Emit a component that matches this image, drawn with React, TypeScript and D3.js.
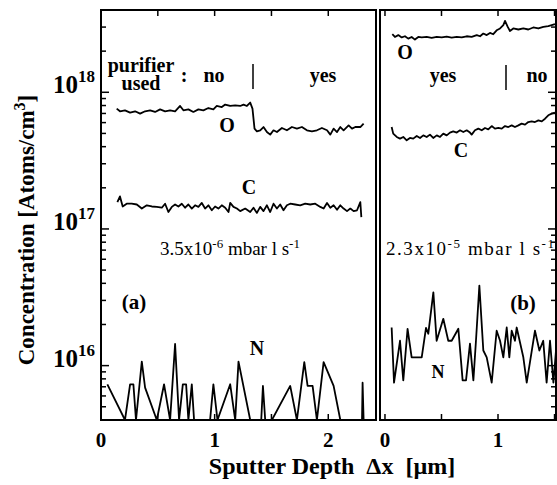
import React from 'react';
import * as d3 from 'd3';

// sputter depth [um], concentration [atoms/cm3]
const F = 4e15; // below detection, sits on the bottom axis

const oxygenA: [number, number][] = [
  [0.138, 7.6e17], [0.167, 7.26e17], [0.211, 7.38e17], [0.256, 7.1e17], [0.3, 7.26e17], [0.344, 6.98e17],
  [0.388, 7.26e17], [0.432, 7.38e17], [0.476, 7.18e17], [0.52, 7.5e17], [0.564, 7.26e17], [0.608, 7.38e17],
  [0.652, 7.26e17], [0.696, 7.94e17], [0.725, 7.38e17], [0.769, 7.5e17], [0.813, 7.18e17], [0.857, 7.5e17],
  [0.901, 7.38e17], [0.945, 7.67e17], [0.989, 7.5e17], [1.019, 7.94e17], [1.063, 7.8e17], [1.093, 8.13e17],
  [1.137, 7.94e17], [1.181, 8.03e17], [1.225, 7.94e17], [1.254, 8.13e17], [1.284, 7.94e17], [1.313, 8.41e17],
  [1.333, 7.6e17], [1.351, 5.42e17], [1.372, 5.18e17], [1.401, 5.27e17], [1.43, 5.57e17], [1.46, 5.12e17],
  [1.489, 4.9e17], [1.518, 5.27e17], [1.548, 5.12e17], [1.592, 5.48e17], [1.636, 5.27e17], [1.68, 5.57e17],
  [1.724, 5.42e17], [1.768, 5.57e17], [1.812, 5.27e17], [1.856, 5.18e17], [1.9, 5.27e17], [1.944, 5.48e17],
  [1.989, 5.27e17], [2.018, 4.9e17], [2.047, 5.42e17], [2.077, 5.12e17], [2.106, 5.57e17], [2.135, 5.27e17],
  [2.179, 5.73e17], [2.209, 5.42e17], [2.238, 5.57e17], [2.282, 5.57e17], [2.311, 5.9e17],
];

const carbonA: [number, number][] = [
  [0.144, 1.57e17], [0.167, 1.73e17], [0.191, 1.46e17], [0.226, 1.53e17], [0.27, 1.53e17], [0.315, 1.51e17],
  [0.359, 1.41e17], [0.403, 1.49e17], [0.447, 1.46e17], [0.491, 1.45e17], [0.535, 1.43e17], [0.564, 1.53e17],
  [0.593, 1.33e17], [0.623, 1.45e17], [0.652, 1.51e17], [0.681, 1.46e17], [0.711, 1.53e17], [0.74, 1.43e17],
  [0.769, 1.51e17], [0.799, 1.41e17], [0.828, 1.49e17], [0.857, 1.45e17], [0.887, 1.55e17], [0.916, 1.41e17],
  [0.945, 1.49e17], [0.975, 1.37e17], [1.004, 1.46e17], [1.033, 1.41e17], [1.063, 1.49e17], [1.093, 1.43e17],
  [1.122, 1.33e17], [1.137, 1.55e17], [1.166, 1.45e17], [1.196, 1.41e17], [1.225, 1.35e17], [1.269, 1.41e17],
  [1.313, 1.33e17], [1.342, 1.43e17], [1.372, 1.31e17], [1.401, 1.45e17], [1.43, 1.35e17], [1.46, 1.49e17],
  [1.489, 1.33e17], [1.518, 1.53e17], [1.548, 1.41e17], [1.577, 1.51e17], [1.606, 1.37e17], [1.636, 1.49e17],
  [1.665, 1.53e17], [1.709, 1.51e17], [1.753, 1.49e17], [1.797, 1.53e17], [1.841, 1.51e17], [1.885, 1.53e17],
  [1.93, 1.45e17], [1.959, 1.41e17], [1.989, 1.55e17], [2.018, 1.43e17], [2.047, 1.49e17], [2.077, 1.38e17],
  [2.106, 1.49e17], [2.135, 1.41e17], [2.165, 1.35e17], [2.194, 1.41e17], [2.223, 1.35e17], [2.253, 1.37e17],
  [2.282, 1.57e17], [2.291, 1.22e17],
];

const nitrogenA: [number, number][] = [
  [0.056, 7.3e15], [0.211, F], [0.256, 7.3e15], [0.285, 7.3e15], [0.308, F], [0.359, 1.07e16], [0.388, 6.9e15],
  [0.491, F], [0.555, 7.3e15], [0.608, F], [0.652, 1.44e16], [0.687, F], [0.72, 7.3e15], [0.749, 7.3e15],
  [0.769, F], [0.799, 7.3e15], [0.819, F], [0.96, F], [0.989, 7.3e15], [1.025, F], [1.137, 7.3e15], [1.181, F],
  [1.21, 1.07e16], [1.313, F], [1.41, F], [1.425, 7.1e15], [1.445, F], [1.504, F], [1.665, 7.1e15], [1.724, F],
  [1.789, 1.06e16], [1.818, 7.1e15], [1.862, 7.1e15], [1.9, F], [1.959, 1.06e16], [2.047, 7.1e15], [2.106, F],
  [2.297, F], [2.302, 7.5e15], [2.311, F],
];

const oxygenB: [number, number][] = [
  [0.065, 2.66e18], [0.088, 2.54e18], [0.118, 2.62e18], [0.148, 2.52e18], [0.177, 2.57e18], [0.206, 2.47e18],
  [0.236, 2.54e18], [0.265, 2.43e18], [0.295, 2.54e18], [0.325, 2.52e18], [0.369, 2.54e18], [0.413, 2.5e18],
  [0.458, 2.54e18], [0.502, 2.52e18], [0.546, 2.55e18], [0.59, 2.51e18], [0.635, 2.54e18], [0.679, 2.52e18],
  [0.723, 2.57e18], [0.767, 2.54e18], [0.812, 2.62e18], [0.841, 2.57e18], [0.87, 2.69e18], [0.9, 2.62e18],
  [0.929, 2.72e18], [0.958, 2.66e18], [0.988, 2.84e18], [1.018, 2.93e18], [1.047, 3.1e18], [1.062, 3.33e18],
  [1.086, 3.01e18], [1.106, 2.81e18], [1.135, 2.93e18], [1.18, 2.88e18], [1.224, 2.93e18], [1.268, 2.88e18],
  [1.312, 2.98e18], [1.357, 2.93e18], [1.401, 3.01e18], [1.445, 3.05e18], [1.475, 3.1e18], [1.504, 3.15e18],
];

const carbonB: [number, number][] = [
  [0.059, 5.57e17], [0.073, 4.98e17], [0.104, 4.71e17], [0.133, 4.58e17], [0.162, 4.71e17], [0.192, 4.45e17],
  [0.221, 4.63e17], [0.25, 4.58e17], [0.281, 4.79e17], [0.31, 4.63e17], [0.339, 4.84e17], [0.369, 4.71e17],
  [0.398, 4.9e17], [0.427, 4.63e17], [0.458, 4.84e17], [0.487, 4.71e17], [0.516, 4.98e17], [0.546, 4.84e17],
  [0.575, 5.07e17], [0.604, 5.18e17], [0.635, 5.07e17], [0.664, 5.27e17], [0.693, 5.12e17], [0.723, 5.27e17],
  [0.752, 5.07e17], [0.767, 4.9e17], [0.796, 5.27e17], [0.826, 5.42e17], [0.856, 5.27e17], [0.885, 5.48e17],
  [0.914, 5.36e17], [0.944, 5.66e17], [0.973, 5.42e17], [1.003, 5.48e17], [1.033, 5.42e17], [1.062, 5.66e17],
  [1.091, 5.57e17], [1.121, 5.73e17], [1.15, 5.57e17], [1.18, 5.73e17], [1.209, 5.9e17], [1.239, 5.8e17],
  [1.268, 6.06e17], [1.298, 6.13e17], [1.327, 6.06e17], [1.357, 6.23e17], [1.387, 6.13e17], [1.416, 6.41e17],
  [1.445, 6.79e17], [1.475, 6.98e17], [1.504, 7.11e17],
];

const nitrogenB: [number, number][] = [
  [0.059, 1.9e16], [0.08, 7.5e15], [0.133, 1.52e16], [0.162, 7.8e15], [0.2, 1.86e16], [0.236, 1.15e16],
  [0.325, 1.15e16], [0.363, 1.89e16], [0.383, 1.71e16], [0.428, 3.44e16], [0.457, 1.52e16], [0.516, 2.2e16],
  [0.56, 1.52e16], [0.59, 1.52e16], [0.649, 1.86e16], [0.687, 7.8e15], [0.717, 7.8e15], [0.752, 1.45e16],
  [0.782, 7.8e15], [0.805, 1.52e16], [0.835, 3.85e16], [0.87, 1.29e16], [0.9, 1.15e16], [0.944, 7.5e15],
  [0.988, 1.8e16], [1.018, 1.52e16], [1.047, 1.15e16], [1.077, 1.9e16], [1.1, 1.15e16], [1.121, 1.8e16],
  [1.15, 1.52e16], [1.165, 1.9e16], [1.224, 1.15e16], [1.254, 7.5e15], [1.327, 1.8e16], [1.366, 1.29e16],
  [1.4, 1.52e16], [1.43, 7.5e15], [1.46, 1.52e16], [1.49, 7.5e15], [1.52, 1.52e16],
];

const yDomain = [4e15, 4e18];
const xDomainA = [0, 2.42];
const xDomainB = [-0.044, 1.513];
const xTickLabelsA = [0, 1, 2];
const xTickLabelsB = [0, 1];
const yTickLabels = [16, 17, 18];

const serif = 'Liberation Serif, Times New Roman, serif';

const App = () => {
  const top = 10;
  const bottom = 420;
  const y = d3.scaleLog().domain(yDomain).range([bottom, top]);
  const xA = d3.scaleLinear().domain(xDomainA).range([101, 376]);
  const xB = d3.scaleLinear().domain(xDomainB).range([380, 556]);

  const minor: number[] = [];
  for (let e = 15; e <= 18; e++) {
    for (let m = 1; m <= 9; m++) {
      const v = m * Math.pow(10, e);
      if (v >= yDomain[0] && v <= yDomain[1]) minor.push(v);
    }
  }

  const lineA = d3.line<[number, number]>().x(d => xA(d[0])).y(d => y(Math.max(d[1], yDomain[0])));
  const lineB = d3.line<[number, number]>().x(d => xB(d[0])).y(d => y(Math.max(d[1], yDomain[0])));

  const halfTicks = (dom: number[]) => d3.range(Math.ceil(dom[0] * 2) / 2, dom[1] + 1e-9, 0.5);

  const curve = { fill: 'none', stroke: '#000', strokeWidth: 1.8, strokeLinejoin: 'round' as const };
  const bold = { fontFamily: serif, fontWeight: 'bold' as const };

  return (
    <svg width={557} height={485} style={{ position: 'absolute', left: 0, top: 0, background: '#fff' }}>
      <defs>
        <clipPath id="clipA"><rect x={101} y={top} width={275} height={bottom - top} /></clipPath>
        <clipPath id="clipB"><rect x={380} y={top} width={176} height={bottom - top} /></clipPath>
      </defs>

      {/* frames */}
      <rect x={101} y={top} width={275} height={bottom - top} fill="none" stroke="#000" strokeWidth={2} />
      <rect x={380} y={top} width={176} height={bottom - top} fill="none" stroke="#000" strokeWidth={2} />

      {/* y ticks: left of (a), right of (b) */}
      {minor.map(v => {
        const major = Math.abs(Math.log10(v) - Math.round(Math.log10(v))) < 1e-9;
        const len = major ? 8 : 5;
        return (
          <g key={v} stroke="#000" strokeWidth={1.5}>
            <line x1={101} x2={101 + len} y1={y(v)} y2={y(v)} />
            <line x1={556} x2={556 - len} y1={y(v)} y2={y(v)} />
          </g>
        );
      })}

      {/* x ticks top and bottom */}
      {halfTicks(xDomainA).map(t => (
        <g key={'a' + t} stroke="#000" strokeWidth={1.5}>
          <line x1={xA(t)} x2={xA(t)} y1={top} y2={top + 6} />
          <line x1={xA(t)} x2={xA(t)} y1={bottom} y2={bottom - 6} />
        </g>
      ))}
      {halfTicks(xDomainB).map(t => (
        <g key={'b' + t} stroke="#000" strokeWidth={1.5}>
          <line x1={xB(t)} x2={xB(t)} y1={top} y2={top + 6} />
          <line x1={xB(t)} x2={xB(t)} y1={bottom} y2={bottom - 6} />
        </g>
      ))}

      {/* curves */}
      <g clipPath="url(#clipA)">
        <path d={lineA(oxygenA) || ''} {...curve} />
        <path d={lineA(carbonA) || ''} {...curve} />
        <path d={lineA(nitrogenA) || ''} {...curve} />
      </g>
      <g clipPath="url(#clipB)">
        <path d={lineB(oxygenB) || ''} {...curve} />
        <path d={lineB(carbonB) || ''} {...curve} />
        <path d={lineB(nitrogenB) || ''} {...curve} />
      </g>

      {/* tick labels */}
      {xTickLabelsA.map(t => (
        <text key={'la' + t} x={xA(t)} y={447} textAnchor="middle" fontSize={21} {...bold}>{t}</text>
      ))}
      {xTickLabelsB.map(t => (
        <text key={'lb' + t} x={xB(t)} y={447} textAnchor="middle" fontSize={21} {...bold}>{t}</text>
      ))}
      {yTickLabels.map(e => (
        <text key={'ly' + e} x={95} y={y(Math.pow(10, e)) + 1} textAnchor="end" fontSize={25} {...bold}>
          10<tspan dy={-11} fontSize={17}>{e}</tspan>
        </text>
      ))}

      {/* axis titles */}
      <text transform="translate(34,230) rotate(-90)" textAnchor="middle" fontSize={23} {...bold}>
        Concentration [Atoms/cm<tspan dy={-9} fontSize={16}>3</tspan><tspan dy={9}>]</tspan>
      </text>
      <text x={332} y={474} textAnchor="middle" fontSize={24} {...bold} style={{ whiteSpace: 'pre' }}>
        {'Sputter Depth  \u0394x  [\u00b5m]'}
      </text>

      {/* annotations panel (a) */}
      <g {...bold} fontSize={20}>
        <text x={141} y={72} textAnchor="middle">purifier</text>
        <text x={141} y={90} textAnchor="middle">used</text>
        <text x={184} y={82} textAnchor="middle">:</text>
        <text x={214} y={82} textAnchor="middle">no</text>
        <text x={323} y={82} textAnchor="middle">yes</text>
        <text x={227} y={132} textAnchor="middle">O</text>
        <text x={249} y={194} textAnchor="middle">C</text>
        <text x={257} y={355} textAnchor="middle">N</text>
        <text x={134} y={309} textAnchor="middle" fontSize={21}>(a)</text>
      </g>
      <line x1={253} x2={253} y1={64} y2={89} stroke="#000" strokeWidth={1.5} />
      <text x={230} y={255} textAnchor="middle" fontSize={19} fontFamily={serif}>
        3.5x10<tspan dy={-7} fontSize={13}>-6</tspan><tspan dy={7}> mbar l s</tspan><tspan dy={-7} fontSize={13}>-1</tspan>
      </text>

      {/* annotations panel (b) */}
      <g {...bold} fontSize={20}>
        <text x={405} y={59} textAnchor="middle">O</text>
        <text x={443} y={82} textAnchor="middle">yes</text>
        <text x={537} y={82} textAnchor="middle">no</text>
        <text x={461} y={157} textAnchor="middle">C</text>
        <text x={438} y={378} textAnchor="middle" fontSize={18}>N</text>
        <text x={523} y={310} textAnchor="middle" fontSize={21}>(b)</text>
      </g>
      <line x1={506} x2={506} y1={65} y2={90} stroke="#000" strokeWidth={1.5} />
      <text x={386} y={255} fontSize={19} fontFamily={serif} textLength={168} lengthAdjust="spacing">
        2.3x10<tspan dy={-7} fontSize={13}>-5</tspan><tspan dy={7}> mbar l s</tspan><tspan dy={-7} fontSize={13}>-1</tspan>
      </text>
    </svg>
  );
};

export default App;
